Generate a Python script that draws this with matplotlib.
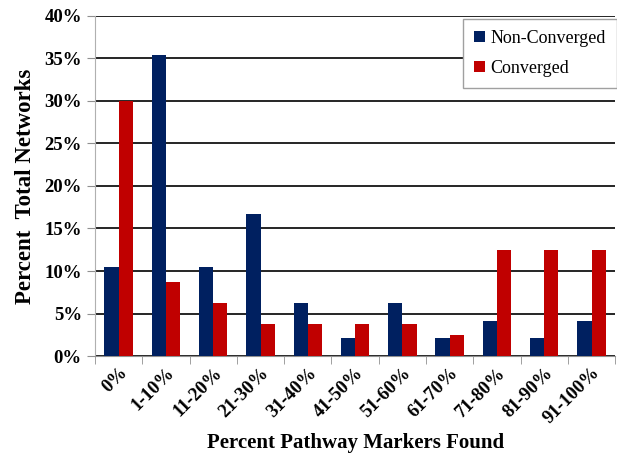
import numpy as np
import matplotlib
matplotlib.use("Agg")
import matplotlib.pyplot as plt
from matplotlib.ticker import FixedLocator, PercentFormatter

categories = ["0%", "1-10%", "11-20%", "21-30%", "31-40%", "41-50%",
              "51-60%", "61-70%", "71-80%", "81-90%", "91-100%"]
non_converged = [10.42, 35.42, 10.42, 16.67, 6.25, 2.08, 6.25, 2.08, 4.17, 2.08, 4.17]
converged = [30.0, 8.75, 6.25, 3.75, 3.75, 3.75, 3.75, 2.5, 12.5, 12.5, 12.5]

plt.rcParams["font.family"] = ["Liberation Serif", "DejaVu Serif"]

fig = plt.figure(figsize=(6.17, 4.53), dpi=100)
ax = fig.add_axes([0.154, 0.214, 0.843, 0.751])

x = np.arange(len(categories))
w = 0.3
ax.bar(x - w / 2, non_converged, w, color="#002060", label="Non-Converged", zorder=3)
ax.bar(x + w / 2, converged, w, color="#C00000", label="Converged", zorder=3)

ax.set_xlim(-0.5, len(categories) - 0.5)
ax.set_ylim(0, 40)
ax.set_yticks(np.arange(0, 41, 5))
ax.yaxis.set_major_formatter(PercentFormatter(decimals=0))
ax.grid(axis="y", color="black", linewidth=1.2, zorder=0)

for s in ["top", "right"]:
    ax.spines[s].set_visible(False)
ax.spines["left"].set_color("#b0b0b0")
ax.spines["bottom"].set_color("#909090")

ax.set_xticks(x)
ax.set_xticklabels(categories, rotation=45, ha="right", rotation_mode="anchor",
                   fontsize=13.5, fontweight="bold")
ax.tick_params(axis="x", length=0, pad=6)
ax.xaxis.set_minor_locator(FixedLocator(np.arange(-0.5, len(categories), 1)))
ax.tick_params(axis="x", which="minor", length=6, color="#909090", direction="out")
ax.tick_params(axis="y", length=6, color="#909090", labelsize=13.5)
for lbl in ax.get_yticklabels():
    lbl.set_fontweight("bold")

ax.set_xlabel("Percent Pathway Markers Found", fontsize=15, fontweight="bold", labelpad=4)
ax.set_ylabel("Percent  Total Networks", fontsize=16.5, fontweight="bold", labelpad=6)

leg = ax.legend(loc="upper right", bbox_to_anchor=(1.003, 0.99), fontsize=13,
                handlelength=0.6, handleheight=0.6, handletextpad=0.3,
                labelspacing=0.7, borderpad=0.6, borderaxespad=0.0,
                fancybox=False, framealpha=1)
leg.get_frame().set_edgecolor("#a0a0a0")
leg.get_frame().set_linewidth(1.0)

fig.savefig("out.png", dpi=100)
